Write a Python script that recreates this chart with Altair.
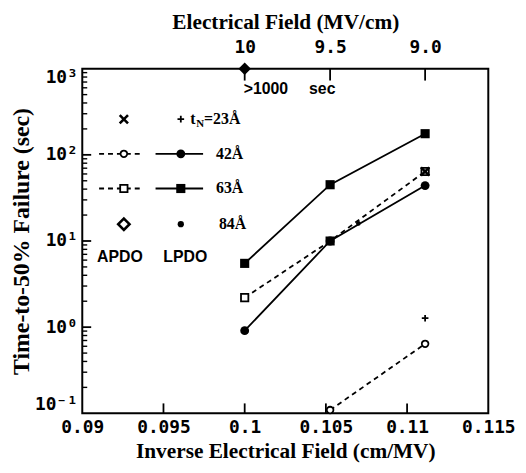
import altair as alt
import pandas as pd

# ---- data (x: inverse field cm/MV, y: time-to-50% failure, sec)
apdo42_x = [0.10526, 0.11111]
apdo42_y = [0.109, 0.64]
lpdo42_x = [0.1, 0.10526, 0.11111]
lpdo42_y = [0.91, 10.0, 44.0]
apdo63_x = [0.1, 0.10526, 0.11111]
apdo63_y = [2.2, 10.0, 64.0]
lpdo63_x = [0.1, 0.10526, 0.11111]
lpdo63_y = [5.5, 45.0, 176.0]
apdo23_x = [0.11111]
apdo23_y = [64.0]
lpdo23_x = [0.11111]
lpdo23_y = [1.27]
apdo84_x = [0.1]
apdo84_y = [1000.0]
lpdo84_x = [0.107]
lpdo84_y = [16.0]

x_ticks = [0.09, 0.095, 0.1, 0.105, 0.11, 0.115]
x_inner_ticks = [0.095, 0.1, 0.105, 0.11]
top_ticks = [0.1, 0.10526, 0.11111]
top_labels = ["10", "9.5", "9.0"]
y_ticks = [0.1, 1, 10, 100, 1000]
y_labels = ["10\u207b\u00b9", "10\u2070", "10\u00b9", "10\u00b2", "10\u00b3"]
y_major_inner = [1, 10, 100]
y_minor = [0.2, 0.3, 0.4, 0.5, 0.6, 0.7, 0.8, 0.9,
           2, 3, 4, 5, 6, 7, 8, 9,
           20, 30, 40, 50, 60, 70, 80, 90,
           200, 300, 400, 500, 600, 700, 800, 900]

W, H = 410, 348
SERIF = "Liberation Serif"
SANS = "Liberation Sans"
MONO = "DejaVu Sans Mono"

XS = alt.Scale(domain=[0.09, 0.115], nice=False, zero=False)
YS = alt.Scale(type="log", domain=[0.1, 1000], nice=False)

AX_X = alt.Axis(values=x_ticks, labelExpr="format(datum.value, '.3~f')",
                title="Inverse Electrical Field (cm/MV)", ticks=False, domain=False,
                grid=False, labelFont=MONO, labelFontWeight="bold", labelFontSize=18,
                labelColor="black", labelPadding=5, labelFlush=False, labelOverlap=False,
                labelBound=False,
                titleFont=SERIF, titleFontSize=21.5, titleFontWeight="bold",
                titleColor="black", titlePadding=5)

y_expr = ""
for v, l in zip(y_ticks, y_labels):
    y_expr += f"abs(datum.value - {v}) < {v}*0.01 ? '{l}' : "
y_expr += "''"
AX_Y = alt.Axis(values=y_ticks, labelExpr=y_expr, title="Time-to-50% Failure (sec)",
                ticks=False, domain=False, grid=False, labelFont=MONO,
                labelFontWeight="bold", labelFontSize=18, labelColor="black",
                labelPadding=5, labelFlush=True, labelOverlap=False,
                titleFont=SERIF, titleFontSize=24, titleFontWeight="bold",
                titleColor="black", titleX=-61, titleY=H / 2, titleAngle=270,
                titleAlign="center", titleBaseline="middle")

t_expr = ""
for v, l in zip(top_ticks, top_labels):
    t_expr += f"abs(datum.value - {v}) < 0.001 ? '{l}' : "
t_expr += "''"
AX_T = alt.Axis(orient="top", values=top_ticks, labelExpr=t_expr,
                title="Electrical Field (MV/cm)", ticks=False, domain=False, grid=False,
                labelFont=MONO, labelFontWeight="bold", labelFontSize=18,
                labelColor="black", labelPadding=12, labelFlush=False, labelOverlap=False,
                titleFont=SERIF, titleFontSize=21.5, titleFontWeight="bold",
                titleColor="black", titlePadding=6)


def df(xs, ys):
    return pd.DataFrame({"x": xs, "y": ys})


def xy(chart):
    return chart.encode(x=alt.X("x:Q", scale=XS, axis=AX_X),
                        y=alt.Y("y:Q", scale=YS, axis=AX_Y))


one = pd.DataFrame({"a": [0]})
XPATH = "M-1,-1L1,1M-1,1L1,-1"
PPATH = "M-1,0L1,0M0,-1L0,1"

layers = []
# lines
layers.append(xy(alt.Chart(df(apdo42_x, apdo42_y)).mark_line(color="black", strokeWidth=1.8, strokeDash=[5, 4])))
layers.append(xy(alt.Chart(df(apdo63_x, apdo63_y)).mark_line(color="black", strokeWidth=1.8, strokeDash=[5, 4])))
layers.append(xy(alt.Chart(df(lpdo42_x, lpdo42_y)).mark_line(color="black", strokeWidth=1.8)))
layers.append(xy(alt.Chart(df(lpdo63_x, lpdo63_y)).mark_line(color="black", strokeWidth=1.8)))
# points
layers.append(xy(alt.Chart(df(apdo63_x, apdo63_y)).mark_point(shape="square", size=55, filled=True, fill="white", stroke="black", strokeWidth=1.8, opacity=1)))
layers.append(xy(alt.Chart(df(apdo42_x, apdo42_y)).mark_point(shape="circle", size=45, filled=True, fill="white", stroke="black", strokeWidth=1.8, opacity=1)))
layers.append(xy(alt.Chart(df(lpdo42_x, lpdo42_y)).mark_point(shape="circle", size=80, filled=True, color="black", opacity=1)))
layers.append(xy(alt.Chart(df(lpdo63_x, lpdo63_y)).mark_point(shape="square", size=85, filled=True, color="black", opacity=1)))
layers.append(xy(alt.Chart(df(apdo23_x, apdo23_y)).mark_point(shape=XPATH, size=70, filled=False, color="black", strokeWidth=2.6, opacity=1)))
layers.append(xy(alt.Chart(df(lpdo23_x, lpdo23_y)).mark_point(shape=PPATH, size=45, filled=False, color="black", strokeWidth=1.8, opacity=1)))
layers.append(xy(alt.Chart(df(apdo84_x, apdo84_y)).mark_point(shape="diamond", size=160, filled=True, color="black", opacity=1)))
layers.append(xy(alt.Chart(df(lpdo84_x, lpdo84_y)).mark_point(shape="circle", size=22, filled=True, color="black", opacity=1)))

# inward ticks
layers.append(alt.Chart(pd.DataFrame({"x": x_inner_ticks})).mark_rule(color="black", strokeWidth=1.8).encode(
    x=alt.X("x:Q", scale=XS, axis=AX_X), y=alt.value(H), y2=alt.value(H - 10)))
layers.append(alt.Chart(pd.DataFrame({"y": y_major_inner})).mark_rule(color="black", strokeWidth=1.8).encode(
    y=alt.Y("y:Q", scale=YS, axis=AX_Y), x=alt.value(0), x2=alt.value(9)))
layers.append(alt.Chart(pd.DataFrame({"y": y_minor})).mark_rule(color="black", strokeWidth=1.4).encode(
    y=alt.Y("y:Q", scale=YS, axis=AX_Y), x=alt.value(0), x2=alt.value(5)))


def txt(text, x, y, font=SERIF, size=16, align="left", baseline="middle"):
    return alt.Chart(one).mark_text(text=text, font=font, fontSize=size, fontWeight="bold",
                                    color="black", align=align, baseline=baseline).encode(
        x=alt.value(x), y=alt.value(y))


def pt(x, y, **kw):
    return alt.Chart(one).mark_point(opacity=1, **kw).encode(x=alt.value(x), y=alt.value(y))


def seg(x1, x2, y, dash=None):
    kw = dict(color="black", strokeWidth=1.8)
    if dash:
        kw["strokeDash"] = dash
    return alt.Chart(one).mark_rule(**kw).encode(x=alt.value(x1), x2=alt.value(x2), y=alt.value(y))


# annotation
layers.append(txt(">1000", 163, 21, font=SANS, size=16))
layers.append(txt("sec", 229, 21, font=SANS, size=16))

# in-plot legend (pixel layout)
R1, R2, R3, R4, R5 = 51, 86, 121, 157, 190
CA, CL = 42, 99.5
layers.append(pt(CA, R1, shape=XPATH, size=70, filled=False, color="black", strokeWidth=2.6))
layers.append(pt(CL, R1, shape=PPATH, size=45, filled=False, color="black", strokeWidth=1.8))
layers.append(txt("t", 109, R1, size=16))
layers.append(txt("N", 115, R1 + 5, size=11))
layers.append(txt("=23\u00c5", 123, R1, size=16))

layers.append(seg(17, 62, R2, dash=[5, 4]))
layers.append(seg(74, 122, R2))
layers.append(pt(CA, R2, shape="circle", size=45, filled=True, fill="white", stroke="black", strokeWidth=1.8))
layers.append(pt(CL, R2, shape="circle", size=80, filled=True, color="black"))
layers.append(txt("42\u00c5", 135, R2))

layers.append(seg(17, 62, R3, dash=[5, 4]))
layers.append(seg(74, 122, R3))
layers.append(pt(CA, R3, shape="square", size=55, filled=True, fill="white", stroke="black", strokeWidth=1.8))
layers.append(pt(CL, R3, shape="square", size=85, filled=True, color="black"))
layers.append(txt("63\u00c5", 135, R3))

layers.append(pt(CA, R4, shape="diamond", size=130, filled=False, color="black", strokeWidth=2.6))
layers.append(pt(CL, R4, shape="circle", size=40, filled=True, color="black"))
layers.append(txt("84\u00c5", 138, R4))

layers.append(txt("APDO", 38, R5, font=SANS, size=16, align="center"))
layers.append(txt("LPDO", 104, R5, font=SANS, size=16, align="center"))

inner = alt.layer(*layers)

top = alt.Chart(pd.DataFrame({"x": top_ticks})).mark_rule(color="black", strokeWidth=1.8).encode(
    x=alt.X("x:Q", scale=XS, axis=AX_T), y=alt.value(0), y2=alt.value(12))

chart = alt.layer(inner, top).resolve_scale(x="independent").properties(
    width=W, height=H,
    autosize=alt.AutoSizeParams(type="none"),
    padding={"left": 75, "top": 59, "right": 30, "bottom": 58},
    background="white",
).configure_view(stroke="black", strokeWidth=2)

chart.save("out.html", embed_options={"renderer": "svg", "actions": False})
